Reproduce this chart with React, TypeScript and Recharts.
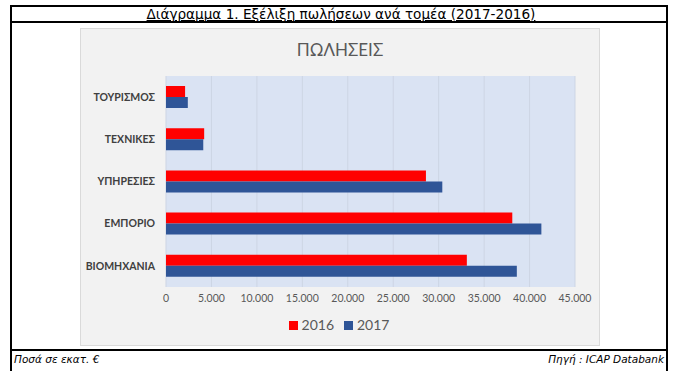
import { BarChart, Bar, XAxis, YAxis, CartesianGrid, Legend } from "recharts";

// Πωλήσεις ανά τομέα (εκατ. €)
const sectors = ["ΤΟΥΡΙΣΜΟΣ", "ΤΕΧΝΙΚΕΣ", "ΥΠΗΡΕΣΙΕΣ", "ΕΜΠΟΡΙΟ", "ΒΙΟΜΗΧΑΝΙΑ"];
const sales2016 = [2100, 4200, 28600, 38100, 33100];
const sales2017 = [2400, 4100, 30400, 41300, 38600];
const xTicks = [0, 5000, 10000, 15000, 20000, 25000, 30000, 35000, 40000, 45000];

const data = sectors.map((name, i) => ({ name, y2016: sales2016[i], y2017: sales2017[i] }));

// greek number format: 45.000
const fmt = (v: number) => String(v).replace(/\B(?=(\d{3})+(?!\d))/g, ".");

const App = () => {
  return (
    <div
      style={{
        position: "absolute",
        left: 0,
        top: 0,
        width: 676,
        height: 371,
        background: "#fff",
        overflow: "hidden",
        fontFamily: "'DejaVu Sans', Verdana, sans-serif",
      }}
    >
      {/* outer frame */}
      <div
        style={{
          position: "absolute",
          left: 10,
          top: 5,
          width: 658,
          height: 380,
          boxSizing: "border-box",
          border: "2px solid #000",
        }}
      />
      <div style={{ position: "absolute", left: 10, top: 21, width: 658, height: 2, background: "#000" }} />
      <div style={{ position: "absolute", left: 10, top: 349, width: 658, height: 2, background: "#000" }} />

      <div
        style={{
          position: "absolute",
          left: 12,
          top: 6,
          width: 658,
          textAlign: "center",
          fontSize: 13.6,
          lineHeight: "17px",
          textDecoration: "underline",
          color: "#000",
        }}
      >
        Διάγραμμα 1. Εξέλιξη πωλήσεων ανά τομέα (2017-2016)
      </div>

      {/* grey chart area */}
      <div
        style={{
          position: "absolute",
          left: 80,
          top: 28,
          width: 520,
          height: 318,
          boxSizing: "border-box",
          background: "#f2f2f2",
          border: "1px solid #dadada",
        }}
      />
      <div
        style={{
          position: "absolute",
          left: 80,
          top: 39,
          width: 520,
          textAlign: "center",
          fontFamily: "Lato, sans-serif",
          fontSize: 17,
          color: "#595959",
        }}
      >
        ΠΩΛΗΣΕΙΣ
      </div>
      <div style={{ position: "absolute", left: 80, top: 28 }}>
        <BarChart
          width={520}
          height={318}
          data={data}
          layout="vertical"
          barSize={11}
          barGap={0}
          margin={{ top: 48, right: 25, left: 0, bottom: 10 }}
        >
          <CartesianGrid horizontal={false} fill="#dae3f3" stroke="#cdd5e4" />
          <XAxis
            type="number"
            domain={[0, 45000]}
            ticks={xTicks}
            tickFormatter={fmt}
            axisLine={false}
            tickLine={false}
            tickMargin={2}
            height={30}
            interval={0}
            tick={{ fontFamily: "Lato, sans-serif", fontSize: 10.5, fill: "#595959" }}
          />
          <YAxis
            type="category"
            dataKey="name"
            width={86}
            axisLine={false}
            tickLine={false}
            tickMargin={5}
            interval={0}
            tick={{ fontFamily: "Lato, sans-serif", fontSize: 10.5, fontWeight: 700, fill: "#404040" }}
          />
          <Legend
            verticalAlign="bottom"
            align="center"
            iconType="square"
            iconSize={9}
            wrapperStyle={{ left: 4, width: 520, bottom: 12 }}
            formatter={(value) => (
              <span style={{ color: "#595959", fontFamily: "Lato, sans-serif", fontSize: 14 }}>{value}</span>
            )}
          />
          <Bar dataKey="y2016" name="2016" fill="#ff0000" isAnimationActive={false} />
          <Bar dataKey="y2017" name="2017" fill="#2f5597" isAnimationActive={false} />
        </BarChart>
      </div>

      {/* footer */}
      <div
        style={{
          position: "absolute",
          left: 14,
          top: 353,
          fontSize: 10.5,
          fontStyle: "italic",
          color: "#000",
        }}
      >
        Ποσά σε εκατ. €
      </div>
      <div
        style={{
          position: "absolute",
          right: 12,
          top: 353,
          fontSize: 10.5,
          fontStyle: "italic",
          color: "#000",
        }}
      >
        Πηγή : ICAP Databank
      </div>
    </div>
  );
};

export default App;
